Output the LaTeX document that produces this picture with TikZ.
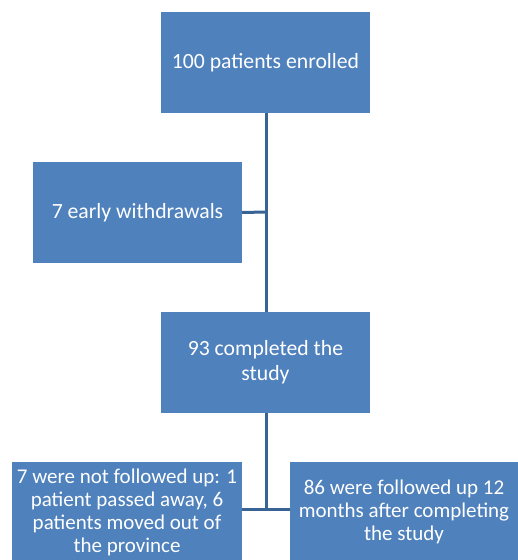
\documentclass[tikz,border=0pt]{standalone}
\usepackage{fontspec}
\setmainfont{Carlito}
\definecolor{boxblue}{HTML}{4F81BD}
\definecolor{linkblue}{HTML}{3A6395}
\begin{document}
\begin{tikzpicture}[x=1bp,y=-1bp,
  box/.style={fill=boxblue, draw=none, text=white, inner sep=0pt, align=center,
    font=\fontsize{21.7bp}{25bp}\selectfont},
  lowbox/.style={box, font=\fontsize{21bp}{23bp}\selectfont},
  link/.style={draw=linkblue, line width=3bp}]
\useasboundingbox (0,0) rectangle (518,560);
\clip (0,0) rectangle (518,560);
\node[box, minimum width=209bp, minimum height=101bp] (enr) at (265.5,62.5) {100 patients enrolled};
\node[box, minimum width=209bp, minimum height=101bp] (wd) at (137.5,212.5) {7 early withdrawals};
\node[box, minimum width=209bp, minimum height=101bp] (comp) at (265.5,362.5) {93 completed the\\study};
\node[lowbox, minimum width=230bp, minimum height=100bp] (nf) at (127,512) {7 were not followed up: 1\\patient passed away, 6\\patients moved out of\\the province};
\node[lowbox, minimum width=228bp, minimum height=100bp] (fu) at (404,512) {86 were followed up 12\\months after completing\\the study};
\coordinate (j1) at (266,212);
\coordinate (j2) at (266,509);
\draw[link] (enr.south -| j1) -- (j1 |- comp.north);
\draw[link] (wd.east) -- (j1);
\draw[link] (comp.south -| j2) -- (j2);
\draw[link] (nf.east |- j2) -- (fu.west |- j2);
\end{tikzpicture}
\end{document}
